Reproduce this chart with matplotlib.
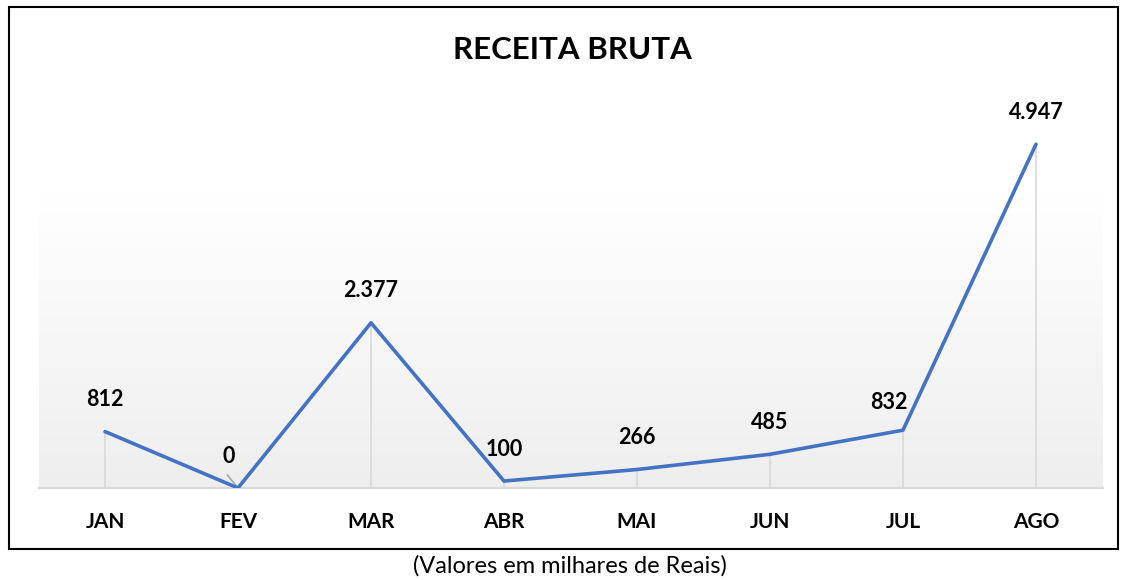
import matplotlib.pyplot as plt
import numpy as np
from matplotlib.colors import LinearSegmentedColormap
from matplotlib.patches import Rectangle

plt.rcParams['font.family'] = ['Lato', 'DejaVu Sans']

meses = ['JAN', 'FEV', 'MAR', 'ABR', 'MAI', 'JUN', 'JUL', 'AGO']
receita = [812, 0, 2377, 100, 266, 485, 832, 4947]
rotulos = ['812', '0', '2.377', '100', '266', '485', '832', '4.947']

W, H = 1138, 580
fig = plt.figure(figsize=(W / 100, H / 100), dpi=100)

# axes placed in pixel terms to match the reference layout
left, right, bottom, top = 38.5, 1102.5, 488, 71
ax = fig.add_axes([left / W, 1 - bottom / H, (right - left) / W, (bottom - top) / H])
ax.set_xlim(-0.5, len(meses) - 0.5)
ax.set_ylim(0, 6000)

# soft gradient in the lower part of the plot area (white at top, grey at bottom)
grad_top = (bottom - 195) / (bottom - top) * 6000
cmap = LinearSegmentedColormap.from_list('bg', ['#ffffff', '#eeeeee'])
ax.imshow(np.linspace(1, 0, 256).reshape(-1, 1), cmap=cmap, aspect='auto',
          origin='lower', extent=[-0.5, len(meses) - 0.5, 0, grad_top], zorder=0)

x = np.arange(len(meses))
ax.vlines(x, 0, receita, color='#d9d9d9', lw=1.2, zorder=1)
ax.plot(x, receita, color='#4472C4', lw=2.6, solid_capstyle='round', zorder=3)

offsets = {1: (-7, 23), 6: (-10, 20)}
for i, (v, s) in enumerate(zip(receita, rotulos)):
    dx, dy = offsets.get(i, (0, 23))
    ax.annotate(s, (i, v), xytext=(dx, dy), textcoords='offset points',
                ha='center', va='center', fontsize=15.5, fontweight='bold', zorder=4)
# leader line for the zero label
ax.annotate('', (1, 0), xytext=(-9, 11), textcoords='offset points',
            arrowprops=dict(arrowstyle='-', color='#a6a6a6', lw=1.2), zorder=2)

for sp in ['top', 'right', 'left']:
    ax.spines[sp].set_visible(False)
ax.spines['bottom'].set_color('#d9d9d9')
ax.spines['bottom'].set_linewidth(1.6)
ax.set_yticks([])
ax.set_xticks(x)
ax.set_xticklabels(meses, fontsize=15, fontweight='bold')
ax.tick_params(axis='x', length=0, pad=17)
ax.patch.set_alpha(0)

fig.text(572 / W, 1 - 50 / H, 'RECEITA BRUTA', ha='center', va='center',
         fontsize=22.5, fontweight='bold')

fig.patches.append(Rectangle((9 / W, 1 - 549 / H), 1109 / W, 542 / H,
                             transform=fig.transFigure, fill=False,
                             edgecolor='black', lw=1.5))

fig.text(570 / W, 1 - 566 / H, '(Valores em milhares de Reais)', ha='center',
         va='center', fontsize=17)

fig.savefig('out.png', dpi=100)
